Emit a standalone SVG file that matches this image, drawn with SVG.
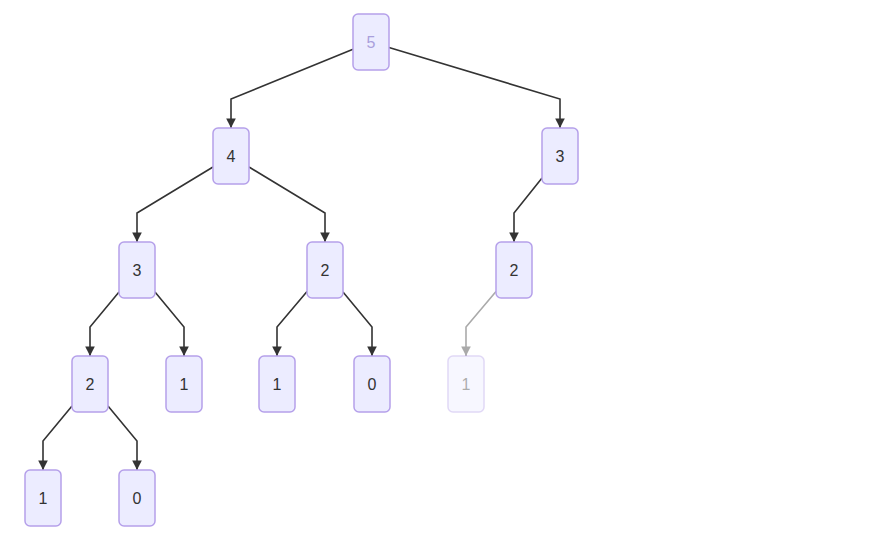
<svg xmlns="http://www.w3.org/2000/svg" width="892" height="552" viewBox="0 0 892 552">
<defs>
<style>
.node rect{fill:#ECECFF;stroke:#b5a0ea;stroke-width:1.5}
.node text{font-family:"Liberation Sans",Arial,sans-serif;font-size:16px;fill:#333;text-anchor:middle;dominant-baseline:central}
.edge{fill:none;stroke:#333;stroke-width:1.6}
.faded-edge{fill:none;stroke:#aaa;stroke-width:1.6}
</style>
<marker id="arrow" viewBox="0 0 10 10" refX="10" refY="5" markerWidth="6" markerHeight="6" markerUnits="strokeWidth" orient="auto">
<path d="M0,0 L10,5 L0,10 z" fill="#333"/>
</marker>
<marker id="arrowFaded" viewBox="0 0 10 10" refX="10" refY="5" markerWidth="6" markerHeight="6" markerUnits="strokeWidth" orient="auto">
<path d="M0,0 L10,5 L0,10 z" fill="#aaa"/>
</marker>
</defs>
<rect width="892" height="552" fill="#fff"/>
<g id="connectors">
<polyline class="edge" points="353,49.3 231,99 231,128" marker-end="url(#arrow)"/>
<polyline class="edge" points="389,47.4 560,99 560,128" marker-end="url(#arrow)"/>
<polyline class="edge" points="213,167 137,213 137,242" marker-end="url(#arrow)"/>
<polyline class="edge" points="249,167 325,213 325,242" marker-end="url(#arrow)"/>
<polyline class="edge" points="542,178 514,213 514,242" marker-end="url(#arrow)"/>
<polyline class="edge" points="119,292 90,327 90,356" marker-end="url(#arrow)"/>
<polyline class="edge" points="155,292 184,327 184,356" marker-end="url(#arrow)"/>
<polyline class="edge" points="307,291.5 277,327 277,356" marker-end="url(#arrow)"/>
<polyline class="edge" points="343,292 372,327 372,356" marker-end="url(#arrow)"/>
<polyline class="faded-edge" points="496,291.5 466,327 466,356" marker-end="url(#arrowFaded)"/>
<polyline class="edge" points="72,406 43,441 43,470" marker-end="url(#arrow)"/>
<polyline class="edge" points="108,406 137,441 137,470" marker-end="url(#arrow)"/>
</g>
<g id="n5" class="node"><rect x="353" y="14" width="36" height="56" rx="5"/><text x="371" y="42" style="fill:#a99fdc">5</text></g>
<g id="n4" class="node"><rect x="213" y="128" width="36" height="56" rx="5"/><text x="231" y="156">4</text></g>
<g id="n3r" class="node"><rect x="542" y="128" width="36" height="56" rx="5"/><text x="560" y="156">3</text></g>
<g id="n3l" class="node"><rect x="119" y="242" width="36" height="56" rx="5"/><text x="137" y="270">3</text></g>
<g id="n2m" class="node"><rect x="307" y="242" width="36" height="56" rx="5"/><text x="325" y="270">2</text></g>
<g id="n2r" class="node"><rect x="496" y="242" width="36" height="56" rx="5"/><text x="514" y="270">2</text></g>
<g id="n2l" class="node"><rect x="72" y="356" width="36" height="56" rx="5"/><text x="90" y="384">2</text></g>
<g id="n1a" class="node"><rect x="166" y="356" width="36" height="56" rx="5"/><text x="184" y="384">1</text></g>
<g id="n1b" class="node"><rect x="259" y="356" width="36" height="56" rx="5"/><text x="277" y="384">1</text></g>
<g id="n0a" class="node"><rect x="354" y="356" width="36" height="56" rx="5"/><text x="372" y="384">0</text></g>
<g id="n1f" class="node" opacity="0.4"><rect x="448" y="356" width="36" height="56" rx="5"/><text x="466" y="384">1</text></g>
<g id="n1c" class="node"><rect x="25" y="470" width="36" height="56" rx="5"/><text x="43" y="498">1</text></g>
<g id="n0b" class="node"><rect x="119" y="470" width="36" height="56" rx="5"/><text x="137" y="498">0</text></g>
</svg>
